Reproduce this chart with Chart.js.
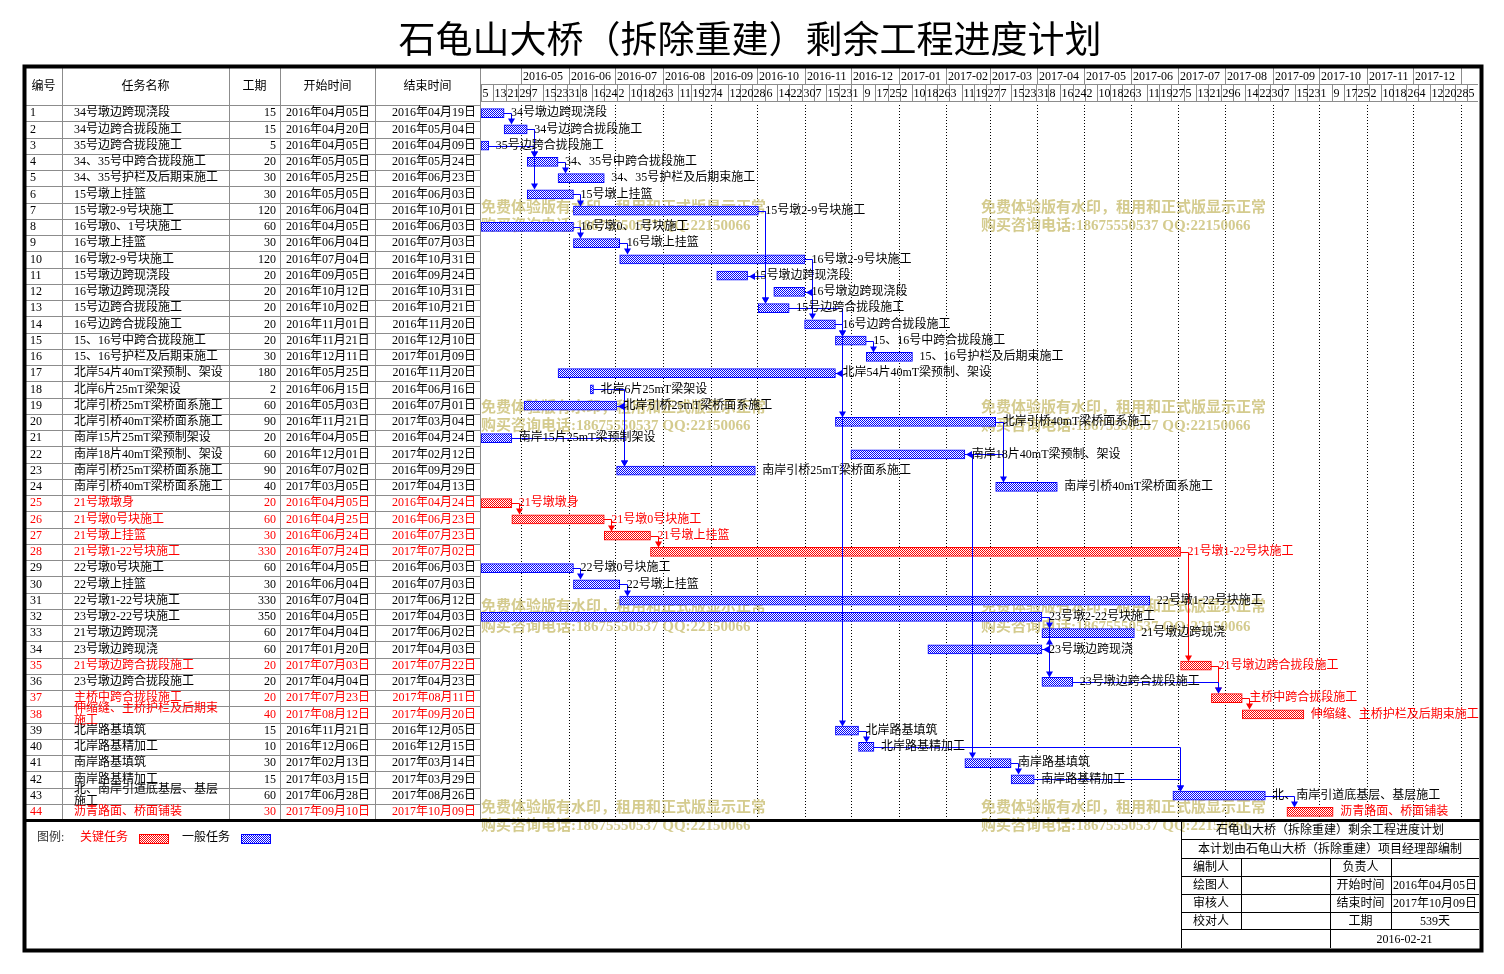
<!DOCTYPE html>
<html>
<head>
<meta charset="utf-8">
<script src="https://cdn.jsdelivr.net/npm/chart.js@4.4.1/dist/chart.umd.min.js"></script>
<style>
  html, body { margin: 0; padding: 0; background: #fff; }
  canvas { display: block; }
</style>
</head>
<body>
<canvas id="gantt" width="1504" height="974"></canvas>
<script>
// ---- task table data ----
const taskNames = [
  '34号墩边跨现浇段', '34号边跨合拢段施工', '35号边跨合拢段施工', '34、35号中跨合拢段施工', '34、35号护栏及后期束施工',
  '15号墩上挂篮', '15号墩2-9号块施工', '16号墩0、1号块施工', '16号墩上挂篮', '16号墩2-9号块施工',
  '15号墩边跨现浇段', '16号墩边跨现浇段', '15号边跨合拢段施工', '16号边跨合拢段施工', '15、16号中跨合拢段施工',
  '15、16号护栏及后期束施工', '北岸54片40mT梁预制、架设', '北岸6片25mT梁架设', '北岸引桥25mT梁桥面系施工', '北岸引桥40mT梁桥面系施工',
  '南岸15片25mT梁预制架设', '南岸18片40mT梁预制、架设', '南岸引桥25mT梁桥面系施工', '南岸引桥40mT梁桥面系施工', '21号墩墩身',
  '21号墩0号块施工', '21号墩上挂篮', '21号墩1-22号块施工', '22号墩0号块施工', '22号墩上挂篮',
  '22号墩1-22号块施工', '23号墩2-22号块施工', '21号墩边跨现浇', '23号墩边跨现浇', '21号墩边跨合拢段施工',
  '23号墩边跨合拢段施工', '主桥中跨合拢段施工', '伸缩缝、主桥护栏及后期束施工', '北岸路基填筑', '北岸路基精加工',
  '南岸路基填筑', '南岸路基精加工', '北、南岸引道底基层、基层施工', '沥青路面、桥面铺装'
];
const durations = [15, 15, 5, 20, 30, 30, 120, 60, 30, 120, 20, 20, 20, 20, 20, 30, 180, 2, 60, 90,
  20, 60, 90, 40, 20, 60, 30, 330, 60, 30, 330, 350, 60, 60, 20, 20, 20, 40, 15, 10, 30, 15, 60, 30];
const startDates = [
  '2016-04-05', '2016-04-20', '2016-04-05', '2016-05-05', '2016-05-25', '2016-05-05', '2016-06-04', '2016-04-05', '2016-06-04', '2016-07-04',
  '2016-09-05', '2016-10-12', '2016-10-02', '2016-11-01', '2016-11-21', '2016-12-11', '2016-05-25', '2016-06-15', '2016-05-03', '2016-11-21',
  '2016-04-05', '2016-12-01', '2016-07-02', '2017-03-05', '2016-04-05', '2016-04-25', '2016-06-24', '2016-07-24', '2016-04-05', '2016-06-04',
  '2016-07-04', '2016-04-05', '2017-04-04', '2017-01-20', '2017-07-03', '2017-04-04', '2017-07-23', '2017-08-12', '2016-11-21', '2016-12-06',
  '2017-02-13', '2017-03-15', '2017-06-28', '2017-09-10'
];
const endDates = [
  '2016-04-19', '2016-05-04', '2016-04-09', '2016-05-24', '2016-06-23', '2016-06-03', '2016-10-01', '2016-06-03', '2016-07-03', '2016-10-31',
  '2016-09-24', '2016-10-31', '2016-10-21', '2016-11-20', '2016-12-10', '2017-01-09', '2016-11-20', '2016-06-16', '2016-07-01', '2017-03-04',
  '2016-04-24', '2017-02-12', '2016-09-29', '2017-04-13', '2016-04-24', '2016-06-23', '2016-07-23', '2017-07-02', '2016-06-03', '2016-07-03',
  '2017-06-12', '2017-04-03', '2017-06-02', '2017-04-03', '2017-07-22', '2017-04-23', '2017-08-11', '2017-09-20', '2016-12-05', '2016-12-15',
  '2017-03-14', '2017-03-29', '2017-08-26', '2017-10-09'
];
// critical path tasks (drawn red)
const criticalTasks = [25, 26, 27, 28, 35, 37, 38, 44];
// predecessor -> successor (task numbers)
const links = [
  [1, 2], [2, 4], [3, 4], [2, 6], [4, 5], [6, 7], [8, 9], [9, 10], [7, 11], [7, 13], [11, 13],
  [10, 12], [12, 14], [13, 15], [14, 15], [15, 16], [14, 17], [17, 20], [17, 39], [39, 40], [40, 43],
  [18, 19], [19, 23], [21, 23], [20, 22], [20, 24], [22, 41], [41, 42], [42, 43], [43, 44],
  [25, 26], [26, 27], [27, 28], [28, 35], [35, 37], [37, 38],
  [29, 30], [30, 31], [32, 33], [32, 34], [34, 33], [34, 36], [36, 37]
];
const monthLabels = [
  '2016-05', '2016-06', '2016-07', '2016-08', '2016-09', '2016-10', '2016-11', '2016-12',
  '2017-01', '2017-02', '2017-03', '2017-04', '2017-05', '2017-06', '2017-07', '2017-08',
  '2017-09', '2017-10', '2017-11', '2017-12'
];
const tableHeaders = ['编号', '任务名称', '工期', '开始时间', '结束时间'];
const watermarkLines = ['免费体验版有水印，租用和正式版显示正常', '购买咨询电话:18675550537 QQ:22150066'];
const infoTitle = '石龟山大桥（拆除重建）剩余工程进度计划';
const infoSubtitle = '本计划由石龟山大桥（拆除重建）项目经理部编制';
const infoRows = [
  ['编制人', '', '负责人', ''],
  ['绘图人', '', '开始时间', '2016年04月05日'],
  ['审核人', '', '结束时间', '2017年10月09日'],
  ['校对人', '', '工期', '539天']
];
const infoDate = '2016-02-21';

// ---- helpers ----
const FONT = '"Liberation Serif", "Noto Sans CJK SC", serif';
const RED = '#ff0000';
const BLUE = '#0000ff';
const BAR_H = 9;
const DAY0 = Date.UTC(2016, 3, 5);   // axis origin: 2016-04-05
const AXIS_DAYS = 647;

function dayOf(s) {
  const [y, m, d] = s.split('-').map(Number);
  return (Date.UTC(y, m - 1, d) - DAY0) / 86400000;
}
function nextMonth(label) {
  let [y, m] = label.split('-').map(Number);
  m += 1; if (m > 12) { m = 1; y += 1; }
  return y + '-' + String(m).padStart(2, '0');
}
function cnDate(s) { return s.replace(/^(\d+)-(\d+)-(\d+)$/, '$1年$2月$3日'); }
function isCritical(n) { return criticalTasks.includes(n); }

const bars = startDates.map((s, i) => [dayOf(s), dayOf(endDates[i]) + 1]);

const canvas = document.getElementById('gantt');
const mainCtx = canvas.getContext('2d');
function checker(color) {
  const c = document.createElement('canvas');
  c.width = c.height = 2;
  const g = c.getContext('2d');
  g.fillStyle = '#fff'; g.fillRect(0, 0, 2, 2);
  g.fillStyle = color; g.fillRect(0, 0, 1, 1); g.fillRect(1, 1, 1, 1);
  return mainCtx.createPattern(c, 'repeat');
}
const bluePattern = checker(BLUE);
const redPattern = checker(RED);

function hline(ctx, x1, x2, y) { ctx.moveTo(x1, y); ctx.lineTo(x2, y); }
function vline(ctx, x, y1, y2) { ctx.moveTo(x, y1); ctx.lineTo(x, y2); }

// ---- sheet parts ----
function drawTitle(ctx) {
  ctx.fillStyle = '#000';
  ctx.font = '37px ' + FONT;
  ctx.textAlign = 'center';
  ctx.textBaseline = 'middle';
  ctx.fillText('石龟山大桥（拆除重建）剩余工程进度计划', 750, 43);
}

function drawTable(ctx, chart) {
  const area = chart.chartArea, ys = chart.scales.y;
  const rowH = (area.bottom - area.top) / taskNames.length;
  const edges = [25, 62, 229, 280, 375, 480];
  ctx.strokeStyle = '#8c8c8c';
  ctx.lineWidth = 1;
  ctx.beginPath();
  for (let i = 0; i < taskNames.length; i++) {
    hline(ctx, 25, 480, Math.round(area.top + i * rowH) + 0.5);
  }
  edges.slice(1).forEach(x => vline(ctx, x + 0.5, 68, area.bottom));
  ctx.stroke();

  ctx.font = '12px ' + FONT;
  ctx.textBaseline = 'middle';
  ctx.fillStyle = '#000';
  ctx.textAlign = 'center';
  tableHeaders.forEach((h, k) => ctx.fillText(h, (edges[k] + edges[k + 1]) / 2, 87));

  taskNames.forEach((name, i) => {
    const cy = ys.getPixelForValue(i);
    ctx.fillStyle = isCritical(i + 1) ? RED : '#000';
    ctx.textAlign = 'left';
    ctx.fillText(String(i + 1), 30, cy);
    if (ctx.measureText(name).width > 150) {
      ctx.fillText(name.slice(0, 12), 74, cy - 6);
      ctx.fillText(name.slice(12), 74, cy + 6);
    } else {
      ctx.fillText(name, 74, cy);
    }
    ctx.textAlign = 'right';
    ctx.fillText(String(durations[i]), 276, cy);
    ctx.textAlign = 'center';
    ctx.fillText(cnDate(startDates[i]), 328, cy);
    ctx.textAlign = 'right';
    ctx.fillText(cnDate(endDates[i]), 476, cy);
  });
}

function drawTimeHeader(ctx, chart) {
  const xs = chart.scales.x, area = chart.chartArea;
  const px = d => Math.round(xs.getPixelForValue(d)) + 0.5;
  ctx.strokeStyle = '#8c8c8c';
  ctx.lineWidth = 1;
  ctx.beginPath();
  hline(ctx, area.left, area.right, 84.5);
  hline(ctx, area.left, area.right, 101.5);
  monthLabels.forEach(m => vline(ctx, px(dayOf(m + '-01')), 68, 84.5));
  vline(ctx, px(dayOf(nextMonth(monthLabels[monthLabels.length - 1]) + '-01')), 68, 84.5);
  for (let d = 0; d < AXIS_DAYS - 3; d += 8) vline(ctx, px(d), 84.5, 101.5);
  ctx.stroke();

  ctx.fillStyle = '#000';
  ctx.font = '12px ' + FONT;
  ctx.textAlign = 'left';
  ctx.textBaseline = 'middle';
  monthLabels.forEach(m => ctx.fillText(m, px(dayOf(m + '-01')) + 1.5, 77));
  for (let d = 0; d < AXIS_DAYS - 3; d += 8) {
    const label = new Date(DAY0 + d * 86400000).getUTCDate();
    ctx.fillText(String(label), px(d) + 1, 93.5);
  }
}

function drawMonthGrid(ctx, chart) {
  const xs = chart.scales.x, area = chart.chartArea;
  ctx.strokeStyle = '#000';
  ctx.lineWidth = 1;
  ctx.setLineDash([1, 2]);
  ctx.beginPath();
  const months = monthLabels.concat([nextMonth(monthLabels[monthLabels.length - 1])]);
  months.forEach(m => {
    const x = Math.round(xs.getPixelForValue(dayOf(m + '-01'))) + 0.5;
    vline(ctx, x, area.top, area.bottom);
  });
  ctx.stroke();
  ctx.setLineDash([]);
}

function drawWatermarks(ctx) {
  ctx.font = 'bold 15px ' + FONT;
  ctx.fillStyle = 'rgba(200,188,110,0.78)';
  ctx.textAlign = 'left';
  ctx.textBaseline = 'middle';
  [[208, 226], [408, 426], [607, 627], [808, 826]].forEach(([y1, y2]) => {
    [481, 981].forEach(x => {
      ctx.fillText(watermarkLines[0], x, y1);
      ctx.fillText(watermarkLines[1], x, y2);
    });
  });
}

function arrowHead(ctx, x, y, dir) {
  ctx.beginPath();
  if (dir === 'down') { ctx.moveTo(x - 3.5, y - 6); ctx.lineTo(x + 3.5, y - 6); }
  else if (dir === 'up') { ctx.moveTo(x - 3.5, y + 6); ctx.lineTo(x + 3.5, y + 6); }
  else { ctx.moveTo(x + 6, y - 3.5); ctx.lineTo(x + 6, y + 3.5); }
  ctx.lineTo(x, y);
  ctx.closePath();
  ctx.fill();
}

function drawLinks(ctx, chart) {
  const xs = chart.scales.x, ys = chart.scales.y, half = BAR_H / 2;
  ctx.lineWidth = 1;
  links.forEach(([a, b]) => {
    const pa = a - 1, pb = b - 1;
    const xe = Math.round(xs.getPixelForValue(bars[pa][1]));
    const yp = Math.round(ys.getPixelForValue(pa)) + 0.5;
    const sx = Math.round(xs.getPixelForValue(bars[pb][0]));
    const ex = Math.round(xs.getPixelForValue(bars[pb][1]));
    const yb = Math.round(ys.getPixelForValue(pb)) + 0.5;
    const color = isCritical(a) && isCritical(b) ? RED : BLUE;
    ctx.strokeStyle = color;
    ctx.fillStyle = color;
    ctx.beginPath();
    if (sx >= xe - 1) {
      const x = Math.max(xe, sx) + 7.5;
      const down = yb > yp;
      const yEdge = down ? yb - half - 0.5 : yb + half + 0.5;
      ctx.moveTo(xe, yp); ctx.lineTo(x, yp); ctx.lineTo(x, yEdge + (down ? -5 : 5));
      ctx.stroke();
      arrowHead(ctx, x, yEdge, down ? 'down' : 'up');
    } else {
      const x = Math.max(xe, ex) + 7.5;
      ctx.moveTo(xe, yp); ctx.lineTo(x, yp); ctx.lineTo(x, yb); ctx.lineTo(ex + 5, yb);
      ctx.stroke();
      arrowHead(ctx, ex + 1, yb, 'left');
    }
  });
}

function drawBarLabels(ctx, chart) {
  const xs = chart.scales.x, ys = chart.scales.y;
  ctx.font = '12px ' + FONT;
  ctx.textAlign = 'left';
  ctx.textBaseline = 'middle';
  taskNames.forEach((name, i) => {
    ctx.fillStyle = isCritical(i + 1) ? RED : '#000';
    ctx.fillText(name, xs.getPixelForValue(bars[i][1]) + 7, ys.getPixelForValue(i));
  });
}

function drawFooter(ctx) {
  ctx.font = '12px ' + FONT;
  ctx.textBaseline = 'middle';
  ctx.textAlign = 'left';
  ctx.fillStyle = '#333';
  ctx.fillText('图例:', 37, 838);
  ctx.fillStyle = RED;
  ctx.fillText('关键任务', 80, 838);
  ctx.fillStyle = '#000';
  ctx.fillText('一般任务', 182, 838);
  ctx.lineWidth = 1;
  [[139.5, redPattern, RED], [241.5, bluePattern, BLUE]].forEach(([x, pat, col]) => {
    ctx.fillStyle = pat;
    ctx.fillRect(x, 834.5, 29, 9);
    ctx.strokeStyle = col;
    ctx.strokeRect(x, 834.5, 29, 9);
  });

  // plan info box
  const cols = [1181, 1241, 1330, 1391, 1479];
  const rows = [821, 839, 858, 876, 894, 912, 929, 948];
  ctx.strokeStyle = '#000';
  ctx.beginPath();
  rows.slice(1, 7).forEach(y => hline(ctx, cols[0], cols[4], y + 0.5));
  vline(ctx, cols[0] + 0.5, rows[0], rows[7]);
  vline(ctx, cols[1] + 0.5, rows[2], rows[6]);
  vline(ctx, cols[2] + 0.5, rows[2], rows[7]);
  vline(ctx, cols[3] + 0.5, rows[2], rows[6]);
  ctx.stroke();
  ctx.fillStyle = '#000';
  ctx.textAlign = 'center';
  ctx.fillText(infoTitle, (cols[0] + cols[4]) / 2, (rows[0] + rows[1]) / 2 + 1);
  ctx.fillText(infoSubtitle, (cols[0] + cols[4]) / 2, (rows[1] + rows[2]) / 2 + 1);
  infoRows.forEach((r, k) => {
    const cy = (rows[k + 2] + rows[k + 3]) / 2 + 1;
    r.forEach((t, c) => { if (t) ctx.fillText(t, (cols[c] + cols[c + 1]) / 2, cy); });
  });
  ctx.fillText(infoDate, (cols[2] + cols[4]) / 2, (rows[6] + rows[7]) / 2 + 1);
}

function drawFrame(ctx) {
  ctx.strokeStyle = '#000';
  ctx.lineWidth = 4;
  ctx.strokeRect(24.5, 66.5, 1457, 884);
  ctx.lineWidth = 3;
  ctx.beginPath();
  hline(ctx, 24, 1482, 820.5);
  ctx.stroke();
}

const sheetPlugin = {
  id: 'ganttSheet',
  beforeDraw(chart) {
    const ctx = chart.ctx;
    ctx.save();
    ctx.fillStyle = '#fff';
    ctx.fillRect(0, 0, chart.width, chart.height);
    drawTitle(ctx);
    drawTable(ctx, chart);
    drawTimeHeader(ctx, chart);
    drawMonthGrid(ctx, chart);
    drawWatermarks(ctx);
    ctx.restore();
  },
  afterDatasetsDraw(chart) {
    const ctx = chart.ctx;
    ctx.save();
    drawLinks(ctx, chart);
    drawBarLabels(ctx, chart);
    drawFooter(ctx);
    drawFrame(ctx);
    ctx.restore();
  }
};

new Chart(mainCtx, {
  type: 'bar',
  data: {
    labels: taskNames.map((_, i) => String(i + 1)),
    datasets: [{
      data: bars,
      barThickness: BAR_H,
      borderWidth: 1,
      borderSkipped: false,
      backgroundColor: c => isCritical(c.dataIndex + 1) ? redPattern : bluePattern,
      borderColor: c => isCritical(c.dataIndex + 1) ? RED : BLUE,
    }],
  },
  options: {
    indexAxis: 'y',
    responsive: false,
    animation: false,
    events: [],
    layout: { padding: { left: 481, right: 26, top: 105, bottom: 154 } },
    scales: {
      x: { type: 'linear', min: 0, max: AXIS_DAYS, display: false },
      y: { type: 'category', offset: true, display: false },
    },
    plugins: {
      legend: { display: false },
      tooltip: { enabled: false },
    },
  },
  plugins: [sheetPlugin],
});
</script>
</body>
</html>
